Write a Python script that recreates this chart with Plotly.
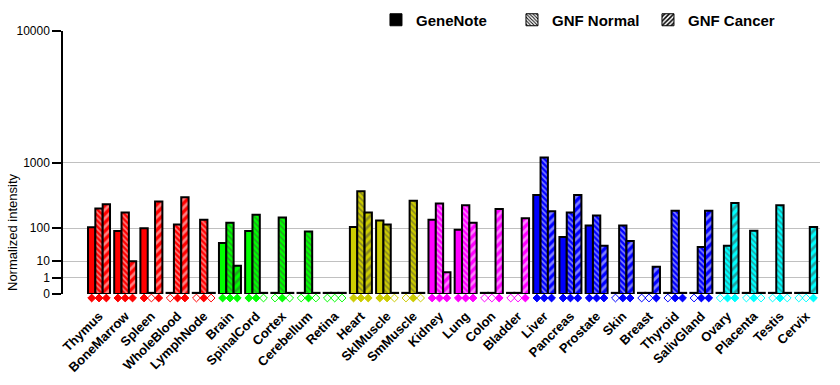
import math
import plotly.graph_objects as go

# ---------------- data ----------------
tissues = ["Thymus", "BoneMarrow", "Spleen", "WholeBlood", "LymphNode",
           "Brain", "SpinalCord", "Cortex", "Cerebellum", "Retina",
           "Heart", "SklMuscle", "SmMuscle",
           "Kidney", "Lung", "Colon", "Bladder",
           "Liver", "Pancreas", "Prostate", "Skin", "Breast", "Thyroid", "SalivGland",
           "Ovary", "Placenta", "Testis", "Cervix"]

tissue_system = ["immune"] * 5 + ["neural"] * 5 + ["muscle"] * 3 + \
                ["visceral"] * 4 + ["glandular"] * 7 + ["reproductive"] * 4

genenote = [105, 87, 100, 0, 0, 43, 87, 0, 0, 0, 107, 145, 0, 150, 93, 0, 0,
            390, 62, 115, 0, 0, 0, 0, 0, 0, 0, 0]
gnf_normal = [240, 205, 0, 120, 150, 130, 185, 165, 85, 0, 440, 120, 320, 290, 270, 0, 0,
              1130, 205, 180, 115, 0, 220, 33, 36, 88, 270, 0]
gnf_cancer = [280, 10, 310, 360, 0, 6, 0, 0, 0, 0, 205, 0, 0, 2.5, 130, 235, 160,
              215, 390, 36, 49, 5.4, 0, 220, 295, 0, 0, 107]

# present (1) / absent (0) calls shown as diamonds under each bar
call_genenote = [1, 1, 1, 0, 0, 1, 1, 0, 0, 0, 1, 1, 0, 1, 1, 0, 0,
                 1, 1, 1, 0, 0, 0, 0, 0, 0, 0, 0]
call_normal = [1, 1, 0, 1, 1, 1, 1, 1, 1, 0, 1, 1, 1, 1, 1, 0, 0,
               1, 1, 1, 1, 0, 1, 1, 1, 1, 1, 0]
call_cancer = [1, 1, 1, 1, 0, 1, 0, 0, 0, 0, 1, 0, 0, 1, 1, 1, 1,
               1, 1, 1, 1, 1, 1, 1, 1, 0, 0, 1]

tick_values = [0, 1, 10, 100, 1000, 10000]
tick_labels = ["0", "1", "10", "100", "1000", "10000"]

# ---------------- styles ----------------
system_colors = {"immune": "#FF0000", "neural": "#00FF00", "muscle": "#CCCC00",
                 "visceral": "#FF00FF", "glandular": "#0000FF", "reproductive": "#00FFFF"}
colors = [system_colors[s] for s in tissue_system]

EXP = math.log10(2)  # power scale: each decade doubles the height


def scale(v):
    return v ** EXP


def bar_height(v):
    # zero values drawn as a thin outlined strip, like the original
    return max(scale(v), 0.07)


FONT = "Liberation Sans, Arial, sans-serif"
BARGAP = 0.16
XRANGE = [-1.375, 27.53]

# layout geometry (px)
W, H = 840, 385
M_L, M_R, M_T, M_B = 63, 20, 31, 83
PLOT_H = H - M_T - M_B
CALL_ROW = 8  # height of the presence-call strip under the bars
split = CALL_ROW / PLOT_H

series = [
    ("GeneNote", genenote, call_genenote, "", "g1"),
    ("GNF Normal", gnf_normal, call_normal, "\\", "g2"),
    ("GNF Cancer", gnf_cancer, call_cancer, "/", "g3"),
]
pattern_style = {"": dict(shape=""),
                 "\\": dict(shape="\\", size=4, solidity=0.4, fgcolor="white", fillmode="overlay"),
                 "/": dict(shape="/", size=6, solidity=0.45, fgcolor="white", fillmode="overlay")}

fig = go.Figure()
for name, vals, calls, pat, grp in series:
    fig.add_trace(go.Bar(
        x=tissues, y=[bar_height(v) for v in vals], name=name, showlegend=False,
        offsetgroup=grp,
        marker=dict(color=colors, line=dict(color="black", width=2),
                    pattern=pattern_style[pat]),
        cliponaxis=False, hoverinfo="skip"))

# presence-call diamonds, positioned under each bar of the group
n_series = len(series)
slot = (1 - BARGAP) / n_series
for k, (name, vals, calls, pat, grp) in enumerate(series):
    offset = (k - (n_series - 1) / 2) * slot
    fig.add_trace(go.Scatter(
        x=[i + offset for i in range(len(tissues))], y=[0] * len(tissues),
        xaxis="x3", yaxis="y2", mode="markers", showlegend=False,
        cliponaxis=False, hoverinfo="skip",
        marker=dict(symbol=["diamond" if c else "diamond-open" for c in calls],
                    color=colors, size=6, line=dict(color=colors, width=1))))

# legend-only entries (black swatches), on a hidden overlay axis
legend_pat = {"": dict(shape=""),
              "\\": dict(shape="\\", size=3, solidity=0.4, fgcolor="black", bgcolor="white", fillmode="replace"),
              "/": dict(shape="/", size=4, solidity=0.5, fgcolor="black", bgcolor="white", fillmode="replace")}
for name, vals, calls, pat, grp in series:
    fig.add_trace(go.Bar(
        x=[0], y=[0], name=name, xaxis="x2", showlegend=True,
        marker=dict(color="black" if pat == "" else "white",
                    line=dict(color="black", width=1), pattern=legend_pat[pat]),
        hoverinfo="skip"))

fig.update_layout(
    template="none",
    width=W, height=H,
    margin=dict(l=M_L, r=M_R, t=M_T, b=M_B, autoexpand=False),
    paper_bgcolor="white", plot_bgcolor="white",
    barmode="group", bargap=BARGAP, bargroupgap=0,
    font=dict(family=FONT, color="black"),
    xaxis=dict(type="category", range=XRANGE, anchor="y2", showgrid=False, showline=False,
               zeroline=False, ticks="", tickangle=-45, automargin=False,
               ticklabelstandoff=3,
               tickfont=dict(family=FONT, size=13, weight="bold", color="black")),
    xaxis2=dict(overlaying="x", visible=False, range=[5, 6]),
    xaxis3=dict(anchor="y2", visible=False, range=XRANGE, type="linear", domain=[0, 1]),
    yaxis=dict(domain=[split, 1], range=[0, 16], tickmode="array", automargin=False,
               tickvals=[scale(v) for v in tick_values], ticktext=tick_labels,
               showgrid=True, gridcolor="#C0C0C0", gridwidth=1, zeroline=False,
               showline=True, linecolor="black", linewidth=1.5,
               ticks="outside", ticklen=9, tickwidth=1.5, tickcolor="black",
               tickfont=dict(family=FONT, size=12, color="black")),
    yaxis2=dict(domain=[0, split], range=[-1, 1], anchor="x3", visible=False),
    legend=dict(orientation="h", xref="container", yref="container",
                x=0.4476, xanchor="left", y=1 - 20 / H, yanchor="middle",
                entrywidth=91, entrywidthmode="pixels",
                font=dict(family=FONT, size=15, weight="bold", color="black"),
                bgcolor="rgba(0,0,0,0)", traceorder="normal"),
    annotations=[dict(text="Normalized intensity", textangle=-90, showarrow=False,
                      xref="paper", yref="paper", x=(13 - M_L) / (W - M_L - M_R),
                      y=(H - M_B - 232) / PLOT_H,
                      xanchor="center", yanchor="middle",
                      font=dict(family=FONT, size=13, color="black"))],
)

fig.write_html("out.html", config={"displayModeBar": False},
               post_script="document.body.style.margin='0';")
